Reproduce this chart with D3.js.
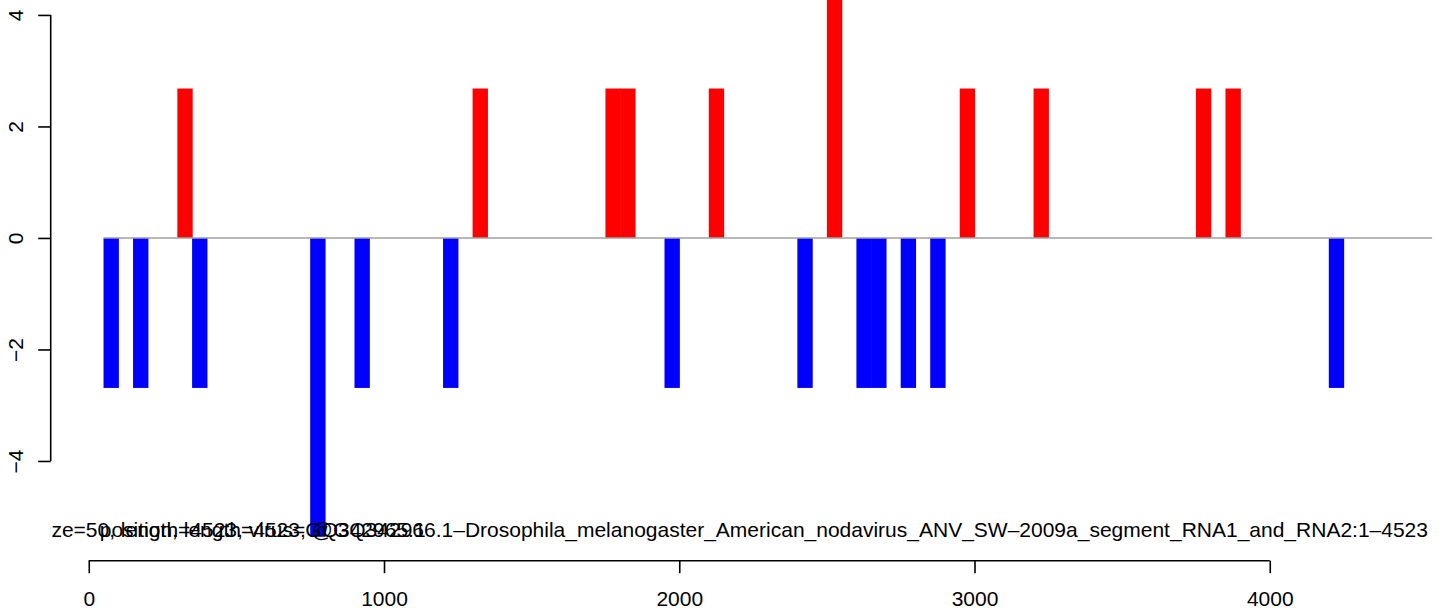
<!DOCTYPE html>
<html>
<head>
<meta charset="utf-8">
<script src="https://cdn.jsdelivr.net/npm/d3@7"></script>
<style>
  html, body { margin: 0; padding: 0; background: #fff; }
  svg { display: block; font-family: "Liberation Sans", Arial, Helvetica, sans-serif; }
</style>
</head>
<body>
<svg id="chart" width="1444" height="608"></svg>
<script>
// ---- data (bin start positions, window = 50) ----
const windowSize = 50;
const posStarts = [300, 1300, 1750, 1800, 2100, 2500, 2950, 3200, 3750, 3850];
const posValues = [2.68, 2.68, 2.68, 2.68, 2.68, 5.36, 2.68, 2.68, 2.68, 2.68];
const negStarts = [50, 150, 350, 750, 900, 1200, 1950, 2400, 2600, 2650, 2750, 2850, 4200];
const negValues = [-2.69, -2.69, -2.69, -5.36, -2.69, -2.69, -2.69, -2.69, -2.69, -2.69, -2.69, -2.69, -2.69];
const xTicks = [0, 1000, 2000, 3000, 4000];
const yTicks = [-4, -2, 0, 2, 4];
const xLimits = [50, 4523];
const yLimits = [-5.36, 5.36];
const zeroLineExtent = [50, 4550];
const labelB = "window size=50, length=4523, virus=GQ342965.1";
const labelBx = -435;
const labelA = "position, length=4523, @GQ342966.1\u2013Drosophila_melanogaster_American_nodavirus_ANV_SW\u20132009a_segment_RNA1_and_RNA2:1\u20134523";
const labelY = -5.37;

// ---- layout ----
const svg = d3.select("#chart");
const plotLeft = 50.7, plotRight = 1477, plotBottom = 560.7, plotTop = -84.8;
const fs = 21;

function expand(l) { const d = (l[1] - l[0]) * 0.04; return [l[0] - d, l[1] + d]; }
const x = d3.scaleLinear().domain(expand(xLimits)).range([plotLeft, plotRight]);
const y = d3.scaleLinear().domain(expand(yLimits)).range([plotBottom, plotTop]);

svg.append("defs").append("clipPath").attr("id", "plotclip")
  .append("rect").attr("x", plotLeft).attr("y", plotTop)
  .attr("width", plotRight - plotLeft).attr("height", plotBottom - plotTop);

const plot = svg.append("g").attr("clip-path", "url(#plotclip)");

const pos = posStarts.map((s, i) => ({ s, v: posValues[i] }));
const neg = negStarts.map((s, i) => ({ s, v: negValues[i] }));

plot.selectAll("rect.pos").data(pos).join("rect").attr("class", "pos")
  .attr("x", d => x(d.s)).attr("width", d => x(d.s + windowSize) - x(d.s) + 0.6)
  .attr("y", d => y(d.v)).attr("height", d => y(0) - y(d.v))
  .attr("fill", "#ff0000");

plot.selectAll("rect.neg").data(neg).join("rect").attr("class", "neg")
  .attr("x", d => x(d.s)).attr("width", d => x(d.s + windowSize) - x(d.s) + 0.6)
  .attr("y", y(0)).attr("height", d => y(d.v) - y(0))
  .attr("fill", "#0000ff");

plot.append("line")
  .attr("x1", x(zeroLineExtent[0])).attr("x2", x(zeroLineExtent[1]))
  .attr("y1", y(0)).attr("y2", y(0))
  .attr("stroke", "#a0a0a0").attr("stroke-width", 1.6);

// overlapping annotation texts (clipped to plot region)
plot.append("text").attr("x", x(labelBx)).attr("y", y(labelY))
  .attr("font-size", fs).attr("fill", "#000").attr("text-anchor", "start")
  .text(labelB);
plot.append("text").attr("x", x((xLimits[0] + xLimits[1]) / 2)).attr("y", y(labelY))
  .attr("font-size", fs).attr("fill", "#000").attr("text-anchor", "middle")
  .text(labelA);

// ---- axes ----
const xAxis = d3.axisBottom(x).tickValues(xTicks).tickSize(12.5).tickPadding(0).tickFormat(d3.format("d"));
const gx = svg.append("g").attr("transform", `translate(0,${plotBottom})`).call(xAxis);
gx.select(".domain").attr("d", `M${x(xTicks[0])},0H${x(xTicks[xTicks.length - 1])}`)
  .attr("stroke", "#000").attr("stroke-width", 1.6);
gx.selectAll(".tick line").attr("stroke", "#000").attr("stroke-width", 1.6);
gx.selectAll(".tick text").attr("font-size", fs).attr("fill", "#000")
  .attr("dy", null).attr("y", 606.5 - plotBottom);

const yAxis = d3.axisLeft(y).tickValues(yTicks).tickSize(12.5).tickFormat(d3.format("d"));
const gy = svg.append("g").attr("transform", `translate(${plotLeft},0)`).call(yAxis);
gy.select(".domain").attr("d", `M0,${y(yTicks[0])}V${y(yTicks[yTicks.length - 1])}`)
  .attr("stroke", "#000").attr("stroke-width", 1.6);
gy.selectAll(".tick line").attr("stroke", "#000").attr("stroke-width", 1.6);
gy.selectAll(".tick text").attr("font-size", fs).attr("fill", "#000")
  .attr("x", null).attr("dy", null).attr("text-anchor", "middle")
  .attr("transform", `translate(${23 - plotLeft},0) rotate(-90)`);
</script>
</body>
</html>
